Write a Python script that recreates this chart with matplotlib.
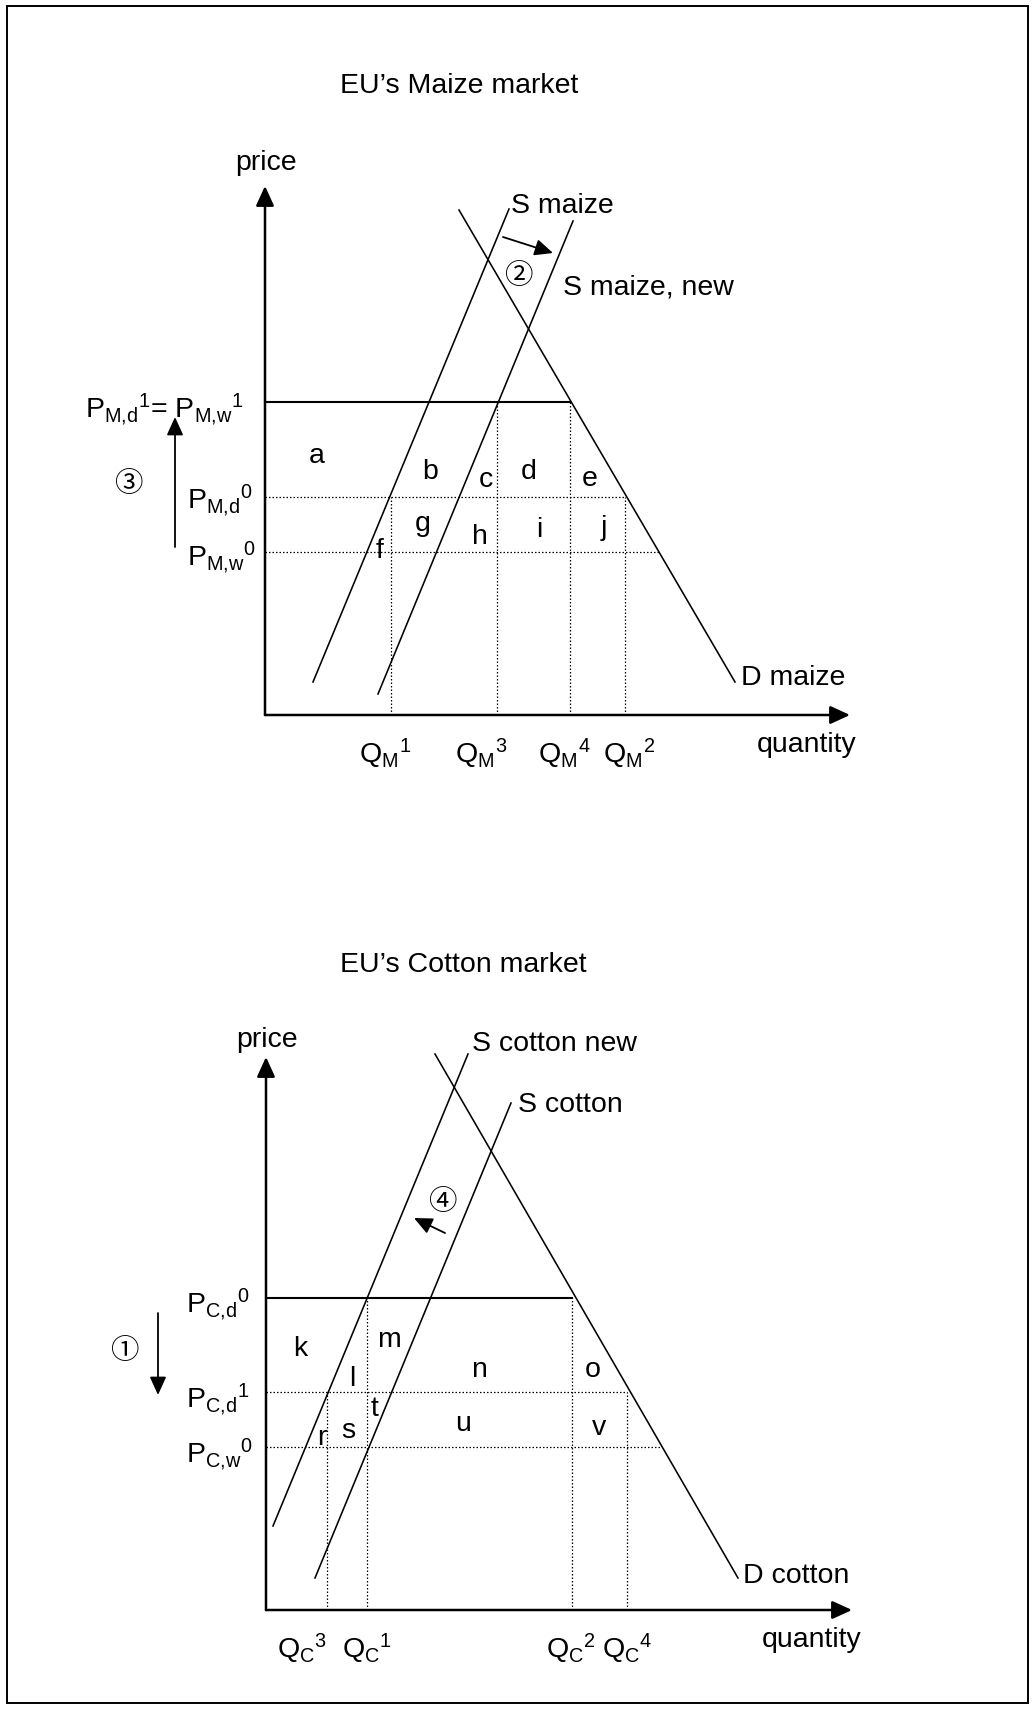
import matplotlib
matplotlib.use("Agg")
import matplotlib.pyplot as plt
from matplotlib.patches import Rectangle

plt.rcParams['font.family'] = ['Liberation Sans', 'Noto Sans CJK JP', 'DejaVu Sans']
plt.rcParams['mathtext.fontset'] = 'custom'
plt.rcParams['mathtext.rm'] = 'Liberation Sans'
plt.rcParams['mathtext.it'] = 'Liberation Sans'

W, H = 1034, 1709
FS = 20.5
CIRC = 20.5

# ---- maize market (quantity, price) measured from the axis corner ----
maize_title = "EU\u2019s Maize market"
maize_supply = [(48, 33), (244, 506)]
maize_supply_new = [(113, 21), (308, 494)]
maize_demand = [(194, 505), (470, 33)]
maize_p1, maize_pd0, maize_pw0 = 313, 218, 163
maize_q1, maize_q3, maize_q4, maize_q2 = 126, 232, 305, 360
maize_q_labels = [r"$\mathrm{Q}_{\mathrm{M}}{}^{1}$", r"$\mathrm{Q}_{\mathrm{M}}{}^{3}$",
                  r"$\mathrm{Q}_{\mathrm{M}}{}^{4}$", r"$\mathrm{Q}_{\mathrm{M}}{}^{2}$"]
maize_p_labels = [r"$\mathrm{P}_{\mathrm{M{,}d}}{}^{1}$= $\mathrm{P}_{\mathrm{M{,}w}}{}^{1}$",
                  r"$\mathrm{P}_{\mathrm{M{,}d}}{}^{0}$", r"$\mathrm{P}_{\mathrm{M{,}w}}{}^{0}$"]
maize_areas = ["a", "b", "c", "d", "e", "f", "g", "h", "i", "j"]
maize_area_pos = [(52, 252), (165, 236), (221, 228), (264, 236), (325, 229),
                  (115, 157), (158, 184), (215, 171), (274, 178), (339, 180)]

# ---- cotton market ----
cotton_title = "EU\u2019s Cotton market"
cotton_supply_new = [(7, 84), (202, 556)]
cotton_supply = [(49, 32), (245, 507)]
cotton_demand = [(169, 556), (472, 32)]
cotton_pd0, cotton_pd1, cotton_pw0 = 312, 218, 163
cotton_q3, cotton_q1, cotton_q2, cotton_q4 = 61, 101, 306, 361
cotton_q_labels = [r"$\mathrm{Q}_{\mathrm{C}}{}^{3}$", r"$\mathrm{Q}_{\mathrm{C}}{}^{1}$",
                   r"$\mathrm{Q}_{\mathrm{C}}{}^{2}$", r"$\mathrm{Q}_{\mathrm{C}}{}^{4}$"]
cotton_p_labels = [r"$\mathrm{P}_{\mathrm{C{,}d}}{}^{0}$", r"$\mathrm{P}_{\mathrm{C{,}d}}{}^{1}$",
                   r"$\mathrm{P}_{\mathrm{C{,}w}}{}^{0}$"]
cotton_areas = ["k", "l", "m", "n", "o", "r", "s", "t", "u", "v"]
cotton_area_pos = [(34, 254), (86, 224), (123, 263), (213, 233), (327, 233),
                   (56, 165), (82, 172), (109, 194), (197, 179), (333, 175)]


def q_at(line, p):
    (q0, p0), (q1, p1) = line
    return q0 + (p - p0) * (q1 - q0) / (p1 - p0)


DOT = dict(color='k', lw=0.9, ls=(0, (1.2, 1.6)))
CURVE = dict(color='k', lw=1.15)


def arrow(ax, start, end, lw=1.3, hl=1.1, hw=0.5):
    ax.annotate('', xy=end, xytext=start,
                arrowprops=dict(arrowstyle='-|>,head_length=%s,head_width=%s' % (hl, hw),
                                lw=lw, color='k', shrinkA=0, shrinkB=0,
                                mutation_scale=10))


def curve(ax, line):
    ax.plot([line[0][0], line[1][0]], [line[0][1], line[1][1]], **CURVE)


def make_ax(top_px, bot_px, ox, oy):
    ax = fig.add_axes([0, 1 - bot_px / H, 1, (bot_px - top_px) / H])
    ax.set_xlim(-ox, W - ox)
    ax.set_ylim(oy - bot_px, oy - top_px)
    ax.axis('off')
    return ax


fig = plt.figure(figsize=(W / 100, H / 100), dpi=100)
fig.add_artist(Rectangle((7 / W, 1 - 1703 / H), 1021 / W, 1697 / H,
                         transform=fig.transFigure, fill=False, lw=1.4, ec='k'))

# ================= maize =================
ax = make_ax(0, 855, 265, 715)
ax.text(75, 622, maize_title, fontsize=FS, ha='left', va='baseline')
arrow(ax, (0, 0), (0, 529), lw=1.8, hl=1.2, hw=0.55)
arrow(ax, (0, 0), (585, 0), lw=1.8, hl=1.2, hw=0.55)
ax.text(1, 552, "price", fontsize=FS, ha='center', va='center')
ax.text(492, -37, "quantity", fontsize=FS, ha='left', va='baseline')

curve(ax, maize_supply)
curve(ax, maize_supply_new)
curve(ax, maize_demand)
ax.text(246, 502, "S maize", fontsize=FS, ha='left', va='baseline')
ax.text(298, 421, "S maize, new", fontsize=FS, ha='left', va='baseline')
ax.text(476, 30, "D maize", fontsize=FS, ha='left', va='baseline')

ax.plot([0, maize_q4], [maize_p1, maize_p1], color='k', lw=1.5)
ax.plot([0, maize_q2], [maize_pd0, maize_pd0], **DOT)
ax.plot([0, q_at(maize_demand, maize_pw0)], [maize_pw0, maize_pw0], **DOT)
for q, top in [(maize_q1, maize_pd0), (maize_q3, maize_p1),
               (maize_q4, maize_p1), (maize_q2, maize_pd0)]:
    ax.plot([q, q], [0, top], **DOT)

for lab, x in zip(maize_q_labels, [94, 190, 273, 338]):
    ax.text(x, -48, lab, fontsize=FS, ha='left', va='baseline')
for lab, (x, y) in zip(maize_p_labels, [(-180, 298), (-78, 207), (-78, 150)]):
    ax.text(x, y, lab, fontsize=FS, ha='left', va='baseline')
for lab, (x, y) in zip(maize_areas, maize_area_pos):
    ax.text(x, y, lab, fontsize=FS, ha='center', va='baseline')

arrow(ax, (-90, 168), (-90, 298))
ax.text(-137, 230, "\u2462", fontsize=CIRC, ha='center', va='center')
arrow(ax, (238, 478), (288, 462))
ax.text(253, 438, "\u2461", fontsize=CIRC, ha='center', va='center')

# ================= cotton =================
ax = make_ax(855, H, 266, 1610)
ax.text(74, 638, cotton_title, fontsize=FS, ha='left', va='baseline')
arrow(ax, (0, 0), (0, 553), lw=1.8, hl=1.2, hw=0.55)
arrow(ax, (0, 0), (586, 0), lw=1.8, hl=1.2, hw=0.55)
ax.text(1, 570, "price", fontsize=FS, ha='center', va='center')
ax.text(496, -37, "quantity", fontsize=FS, ha='left', va='baseline')

curve(ax, cotton_supply_new)
curve(ax, cotton_supply)
curve(ax, cotton_demand)
ax.text(206, 559, "S cotton new", fontsize=FS, ha='left', va='baseline')
ax.text(252, 498, "S cotton", fontsize=FS, ha='left', va='baseline')
ax.text(477, 27, "D cotton", fontsize=FS, ha='left', va='baseline')

ax.plot([0, cotton_q2], [cotton_pd0, cotton_pd0], color='k', lw=1.5)
ax.plot([0, cotton_q4], [cotton_pd1, cotton_pd1], **DOT)
ax.plot([0, q_at(cotton_demand, cotton_pw0)], [cotton_pw0, cotton_pw0], **DOT)
for q, top in [(cotton_q3, cotton_pd1), (cotton_q1, cotton_pd0),
               (cotton_q2, cotton_pd0), (cotton_q4, cotton_pd1)]:
    ax.plot([q, q], [0, top], **DOT)

for lab, x in zip(cotton_q_labels, [11, 76, 280, 336]):
    ax.text(x, -48, lab, fontsize=FS, ha='left', va='baseline')
for lab, (x, y) in zip(cotton_p_labels, [(-80, 298), (-80, 203), (-80, 148)]):
    ax.text(x, y, lab, fontsize=FS, ha='left', va='baseline')
for lab, (x, y) in zip(cotton_areas, cotton_area_pos):
    ax.text(x, y, lab, fontsize=FS, ha='center', va='baseline')

arrow(ax, (-108, 297), (-108, 215))
ax.text(-142, 258, "\u2460", fontsize=CIRC, ha='center', va='center')
arrow(ax, (179, 377), (148, 392))
ax.text(176, 407, "\u2463", fontsize=CIRC, ha='center', va='center')

fig.savefig("out.png", dpi=100)
